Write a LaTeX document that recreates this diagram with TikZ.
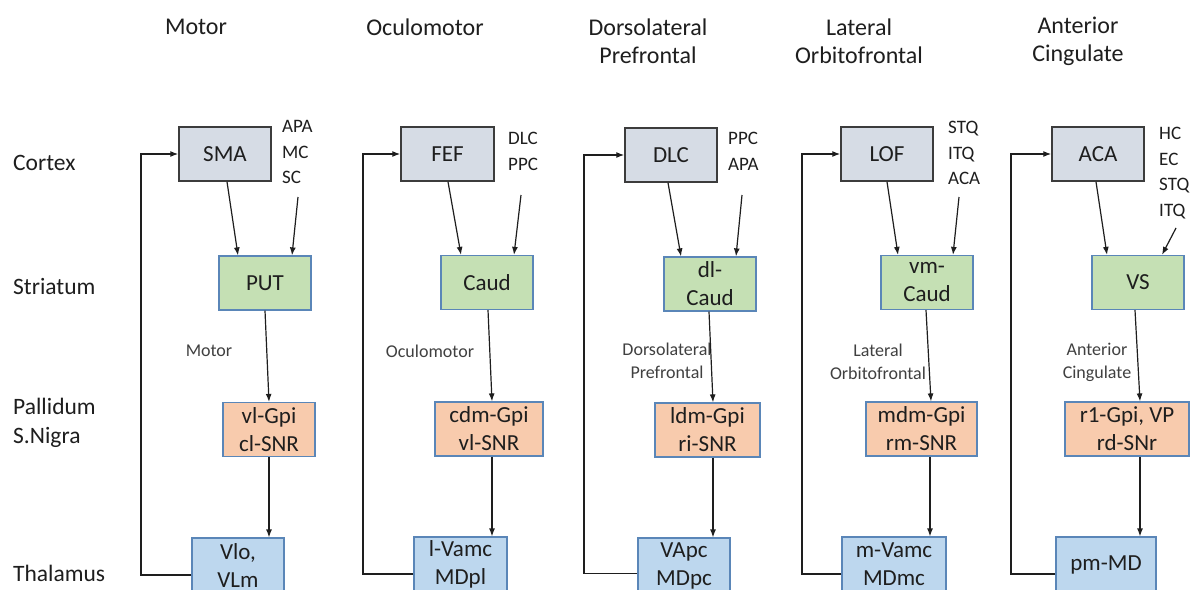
\documentclass[tikz,border=0pt]{standalone}
\usepackage{fontspec}
\setmainfont{Carlito}
\usetikzlibrary{arrows.meta}

\definecolor{inkc}{HTML}{1E1E1E}
\definecolor{cortexfill}{HTML}{D6DCE5}
\definecolor{cortexline}{HTML}{3C3C3C}
\definecolor{strfill}{HTML}{C5E0B4}
\definecolor{palfill}{HTML}{F8CBAD}
\definecolor{thalfill}{HTML}{BDD7EE}
\definecolor{boxline}{HTML}{5A86B8}

\tikzset{
  unitbox/.style={rectangle, inner sep=0pt, minimum height=54pt, text=inkc,
    align=center, font=\fontsize{23}{28}\selectfont},
  cortexbox/.style={unitbox, fill=cortexfill, draw=cortexline, line width=1.5pt},
  strbox/.style={unitbox, fill=strfill, draw=boxline, line width=1.2pt},
  palbox/.style={unitbox, fill=palfill, draw=boxline, line width=1.2pt},
  thalbox/.style={unitbox, fill=thalfill, draw=boxline, line width=1.2pt, minimum height=55pt},
  rowlabel/.style={anchor=west, inner sep=0pt, text=inkc, font=\fontsize{23.5}{29}\selectfont},
  heading/.style={inner sep=0pt, text=inkc, align=center, font=\fontsize{24}{28}\selectfont},
  inputs/.style={anchor=west, inner sep=0pt, text=inkc, align=left, font=\fontsize{19}{25.5}\selectfont},
  loopname/.style={inner sep=0pt, text=inkc!85, align=center, font=\fontsize{18}{23}\selectfont},
  arr/.style={draw=inkc, line width=1.2pt, -{Latex[length=8pt,width=6pt]}},
}

\begin{document}
\begin{tikzpicture}[x=1pt, y=-1pt]
\useasboundingbox (0,0) rectangle (1196,589);
\clip (0,0) rectangle (1196,589);
\fill[white] (0,0) rectangle (1196,589);

% level names on the left
\node[rowlabel] (lvCortex) at (13,163) {Cortex};
\node[rowlabel] (lvStriatum) at (13,286) {Striatum};
\node[rowlabel, align=left] (lvPallidum) at (13,422.5) {Pallidum\\S.Nigra};
\node[rowlabel] (lvThalamus) at (13,573) {Thalamus};

% circuit headings
\node[heading] (hMotor) at (196,27) {Motor};
\node[heading] (hOculo) at (425,27) {Oculomotor};
\node[heading] (hDLPF) at (648,41) {Dorsolateral\\Prefrontal};
\node[heading] (hLOF) at (859,41) {Lateral\\Orbitofrontal};
\node[heading] (hAC) at (1078,41) {Anterior\\Cingulate};

% ---------- motor loop ----------
\node[cortexbox, minimum width=92pt] (SMA) at (225,154) {SMA};
\node[strbox, minimum width=92pt] (PUT) at (265,283) {PUT};
\node[palbox, minimum width=92pt] (vlGpi) at (269,429.5) {vl-Gpi\\cl-SNR};
\node[thalbox, minimum width=92pt] (Vlo) at (238,565.5) {Vlo,\\VLm};
\node[inputs] (inMotor) at (282,152) {APA\\MC\\SC};
\node[loopname] (lMotor) at (209,351) {Motor};
\coordinate (srcMotor) at (298,197);
\coordinate (fbMotor) at (141,0);
\draw[arr] ([xshift=2pt]SMA.south) -- ([xshift=-27pt]PUT.north);
\draw[arr] (srcMotor) -- ([xshift=27pt]PUT.north);
\draw[arr] (PUT.south) -- (vlGpi.north);
\draw[arr] (vlGpi.south) -- ([xshift=31pt]Vlo.north);
\draw[arr] ([yshift=-9.5pt]Vlo.west) -- ([yshift=-9.5pt]Vlo.west -| fbMotor) |- (SMA.west);

% ---------- oculomotor loop ----------
\node[cortexbox, minimum width=93pt] (FEF) at (447.5,154) {FEF};
\node[strbox, minimum width=92pt] (Caud) at (487,282.5) {Caud};
\node[palbox, minimum width=108pt] (cdmGpi) at (489,429) {cdm-Gpi\\vl-SNR};
\node[thalbox, minimum width=93pt] (lVamc) at (460.5,564.5) {l-Vamc\\MDpl};
\node[inputs] (inOculo) at (508,151.5) {DLC\\PPC};
\node[loopname] (lOculo) at (430,351) {Oculomotor};
\coordinate (srcOculo) at (521,195);
\coordinate (fbOculo) at (363,0);
\draw[arr] ([xshift=0.5pt]FEF.south) -- ([xshift=-26pt]Caud.north);
\draw[arr] (srcOculo) -- ([xshift=27pt]Caud.north);
\draw[arr] ([xshift=1pt]Caud.south) -- ([xshift=3pt]cdmGpi.north);
\draw[arr] ([xshift=3pt]cdmGpi.south) -- ([xshift=31.5pt]lVamc.north);
\draw[arr] ([yshift=-9.5pt]lVamc.west) -- ([yshift=-9.5pt]lVamc.west -| fbOculo) |- (FEF.west);

% ---------- dorsolateral prefrontal loop ----------
\node[cortexbox, minimum width=92pt] (DLC) at (671,155) {DLC};
\node[strbox, minimum width=92pt] (dlCaud) at (710,284) {dl-\\Caud};
\node[palbox, minimum width=105pt] (ldmGpi) at (707.5,430) {ldm-Gpi\\ri-SNR};
\node[thalbox, minimum width=92pt] (VApc) at (684,565.5) {VApc\\MDpc};
\node[inputs] (inDLPF) at (728,151.5) {PPC\\APA};
\node[loopname] (lDLPF) at (667,361) {Dorsolateral\\Prefrontal};
\coordinate (srcDLPF) at (742,195);
\coordinate (fbDLPF) at (584,0);
\draw[arr] ([xshift=-3pt]DLC.south) -- ([xshift=-29pt]dlCaud.north);
\draw[arr] (srcDLPF) -- ([xshift=26pt]dlCaud.north);
\draw[arr] ([xshift=-1pt]dlCaud.south) -- ([xshift=5.5pt]ldmGpi.north);
\draw[arr] ([xshift=5.5pt]ldmGpi.south) -- ([xshift=29pt]VApc.north);
\draw[arr] ([yshift=-8pt]VApc.west) -- ([yshift=-8pt]VApc.west -| fbDLPF) |- (DLC.west);

% ---------- lateral orbitofrontal loop ----------
\node[cortexbox, minimum width=92pt] (LOF) at (887,154) {LOF};
\node[strbox, minimum width=92pt] (vmCaud) at (927,282.5) {vm-\\Caud};
\node[palbox, minimum width=111pt] (mdmGpi) at (921.5,429) {mdm-Gpi\\rm-SNR};
\node[thalbox, minimum width=104pt] (mVamc) at (894,564.5) {m-Vamc\\MDmc};
\node[inputs] (inLOF) at (948,153) {STQ\\ITQ\\ACA};
\node[loopname] (lLOF) at (878,362) {Lateral\\Orbitofrontal};
\coordinate (srcLOF) at (959,197);
\coordinate (fbLOF) at (802,0);
\draw[arr] (LOF.south) -- ([xshift=-29pt]vmCaud.north);
\draw[arr] (srcLOF) -- ([xshift=26pt]vmCaud.north);
\draw[arr] ([xshift=-1pt]vmCaud.south) -- ([xshift=9.5pt]mdmGpi.north);
\draw[arr] ([xshift=8.5pt]mdmGpi.south) -- ([xshift=36pt]mVamc.north);
\draw[arr] ([yshift=-9.5pt]mVamc.west) -- ([yshift=-9.5pt]mVamc.west -| fbLOF) |- (LOF.west);

% ---------- anterior cingulate loop ----------
\node[cortexbox, minimum width=92pt] (ACA) at (1098,154) {ACA};
\node[strbox, minimum width=92pt] (VS) at (1138,282.5) {VS};
\node[palbox, minimum width=124pt] (rGpi) at (1127,429) {r1-Gpi, VP\\rd-SNr};
\node[thalbox, minimum width=100pt] (pmMD) at (1106,564.5) {pm-MD};
\node[inputs] (inAC) at (1159,173) {HC\\EC\\STQ\\ITQ};
\node[loopname] (lAC) at (1097,362) {Anterior\\Cingulate};
\coordinate (srcAC) at (1176,228);
\coordinate (fbAC) at (1011,0);
\draw[arr] ([xshift=-2pt]ACA.south) -- ([xshift=-31pt]VS.north);
\draw[arr] (srcAC) -- ([xshift=24pt]VS.north);
\draw[arr] ([xshift=-3pt]VS.south) -- ([xshift=13pt]rGpi.north);
\draw[arr] ([xshift=13pt]rGpi.south) -- ([xshift=34pt]pmMD.north);
\draw[arr] ([yshift=-9.5pt]pmMD.west) -- ([yshift=-9.5pt]pmMD.west -| fbAC) |- (ACA.west);
\end{tikzpicture}
\end{document}
